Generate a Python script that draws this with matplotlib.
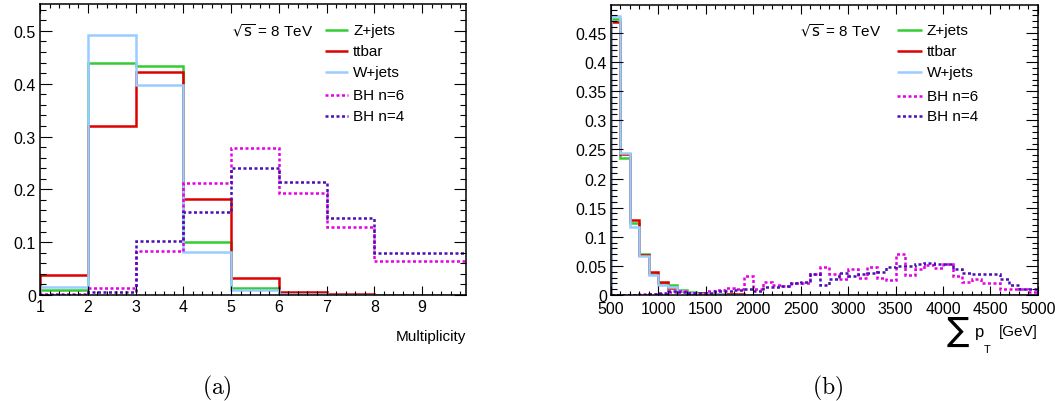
import numpy as np
import matplotlib.pyplot as plt
from matplotlib.ticker import MultipleLocator, FuncFormatter

plt.rcParams['font.family'] = ['Liberation Sans', 'DejaVu Sans']

labels = ['Z+jets', 'ttbar', 'W+jets', 'BH n=6', 'BH n=4']
colors = ['#33cc33', '#dd0000', '#99ccff', '#e600e6', '#4b0fb4']
dotted = (0, (1.2, 1.0))
styles = ['-', '-', '-', dotted, dotted]

# (a) jet multiplicity, unit bins from 1 to 10
mult_edges = np.arange(1, 11)
mult_zjets = [0.010, 0.440, 0.433, 0.100, 0.013, 0.002, 0.0, 0.0, 0.0]
mult_ttbar = [0.037, 0.320, 0.423, 0.181, 0.033, 0.005, 0.002, 0.0, 0.0]
mult_wjets = [0.015, 0.492, 0.397, 0.082, 0.009, 0.001, 0.0, 0.0, 0.0]
mult_bh6 = [0.002, 0.013, 0.083, 0.212, 0.279, 0.193, 0.128, 0.065, 0.065]
mult_bh4 = [0.0, 0.005, 0.102, 0.158, 0.240, 0.213, 0.145, 0.080, 0.080]

# (b) scalar sum of pT, 100 GeV bins from 500 to 5000 GeV
st_edges = np.arange(500, 5001, 100)
st_zjets = [0.474, 0.236, 0.123, 0.070, 0.036, 0.021, 0.018, 0.008, 0.005, 0.003,
            0.002, 0.001, 0.001, 0.0005] + [0.0] * 31
st_ttbar = [0.469, 0.242, 0.129, 0.068, 0.039, 0.022, 0.012, 0.007, 0.004, 0.003,
            0.002, 0.001, 0.001, 0.001, 0.0005] + [0.0] * 30
st_wjets = [0.479, 0.243, 0.117, 0.067, 0.034, 0.018, 0.014, 0.006, 0.003, 0.002,
            0.001, 0.001] + [0.0] * 33
st_bh6 = [0.0, 0.0, 0.0, 0.001, 0.002, 0.002, 0.005, 0.006, 0.003, 0.003,
          0.006, 0.008, 0.012, 0.011, 0.033, 0.010, 0.023, 0.017, 0.016, 0.021,
          0.021, 0.036, 0.048, 0.036, 0.028, 0.045, 0.030, 0.048, 0.029, 0.025,
          0.070, 0.035, 0.045, 0.052, 0.046, 0.053, 0.033, 0.022, 0.027, 0.021,
          0.021, 0.011, 0.011, 0.010, 0.005]
st_bh4 = [0.0, 0.0, 0.0, 0.0, 0.001, 0.003, 0.007, 0.005, 0.003, 0.003,
          0.004, 0.006, 0.006, 0.009, 0.011, 0.007, 0.013, 0.013, 0.016, 0.021,
          0.022, 0.036, 0.018, 0.027, 0.038, 0.033, 0.036, 0.038, 0.040, 0.048,
          0.050, 0.050, 0.053, 0.055, 0.053, 0.053, 0.045, 0.038, 0.036, 0.036,
          0.036, 0.027, 0.018, 0.010, 0.011]


def style_axes(ax, xmaj, xmin, ymaj, ymin, xpad=3):
    ax.xaxis.set_major_locator(MultipleLocator(xmaj))
    ax.xaxis.set_minor_locator(MultipleLocator(xmin))
    ax.yaxis.set_major_locator(MultipleLocator(ymaj))
    ax.yaxis.set_minor_locator(MultipleLocator(ymin))
    ax.yaxis.set_major_formatter(FuncFormatter(lambda v, p: '%g' % round(v, 4)))
    ax.tick_params(which='both', direction='in', top=True, right=True,
                   labelsize=11.5, width=0.8)
    ax.tick_params(axis='y', which='major', length=8.6, pad=3)
    ax.tick_params(axis='y', which='minor', length=4.3)
    ax.tick_params(axis='x', which='major', length=6.3, pad=xpad)
    ax.tick_params(axis='x', which='minor', length=3.1)
    for s in ax.spines.values():
        s.set_linewidth(1.1)


def draw_key(ax, x_sqrt, x0, x1, ys):
    ax.text(x_sqrt, ys[0], r'$\sqrt{\mathrm{s}}$ = 8 TeV', transform=ax.transAxes,
            va='center', fontsize=11, math_fontfamily='dejavusans')
    for lab, c, ls, y in zip(labels, colors, styles, ys):
        ax.plot([x0, x1], [y, y], transform=ax.transAxes, color=c, lw=1.8,
                linestyle=ls, solid_capstyle='butt')
        ax.text(x1 + 0.012, y, lab, transform=ax.transAxes, va='center',
                fontsize=11)


fig = plt.figure(figsize=(10.64, 4.02), dpi=100)
ax1 = fig.add_axes([0.0376, 0.2637, 0.4004, 0.7239])
ax2 = fig.add_axes([0.5742, 0.2637, 0.4013, 0.7214])

for vals, c, ls in zip([mult_zjets, mult_ttbar, mult_wjets, mult_bh6, mult_bh4],
                       colors, styles):
    ax1.stairs(vals, mult_edges, color=c, lw=1.8, linestyle=ls)
ax1.set_xlim(1, 9.92)
ax1.set_ylim(0, 0.551)
style_axes(ax1, 1, 0.2, 0.1, 0.02)
ax1.text(1.0, -0.141, 'Multiplicity', transform=ax1.transAxes,
         ha='right', va='center', fontsize=11)
draw_key(ax1, 0.451, 0.669, 0.723, [0.911, 0.838, 0.766, 0.687, 0.615])

for vals, c, ls in zip([st_zjets, st_ttbar, st_wjets, st_bh6, st_bh4],
                       colors, styles):
    ax2.stairs(vals, st_edges, color=c, lw=1.8, linestyle=ls)
ax2.set_xlim(500, 5000)
ax2.set_ylim(0, 0.498)
style_axes(ax2, 500, 100, 0.05, 0.01, xpad=4.5)
draw_key(ax2, 0.443, 0.670, 0.728, [0.914, 0.841, 0.769, 0.686, 0.617])

# axis title for (b): big sum sign, p with a low T, then the unit
fig.text(958 / 1064, 1 - 331 / 402, '\u2211', fontsize=24, ha='center',
         va='center', family='DejaVu Sans')
fig.text(980 / 1064, 1 - 333 / 402, 'p', fontsize=12, ha='center', va='center')
fig.text(987 / 1064, 1 - 350 / 402, 'T', fontsize=8, ha='center', va='center')
fig.text(1038 / 1064, 1 - 332 / 402, '[GeV]', fontsize=11, ha='right',
         va='center')

fig.text(217 / 1064, 1 - 388 / 402, r'$\mathrm{(a)}$', fontsize=17,
         ha='center', va='center', math_fontfamily='cm')
fig.text(828 / 1064, 1 - 388 / 402, r'$\mathrm{(b)}$', fontsize=17,
         ha='center', va='center', math_fontfamily='cm')

fig.savefig('out.png', dpi=100)
